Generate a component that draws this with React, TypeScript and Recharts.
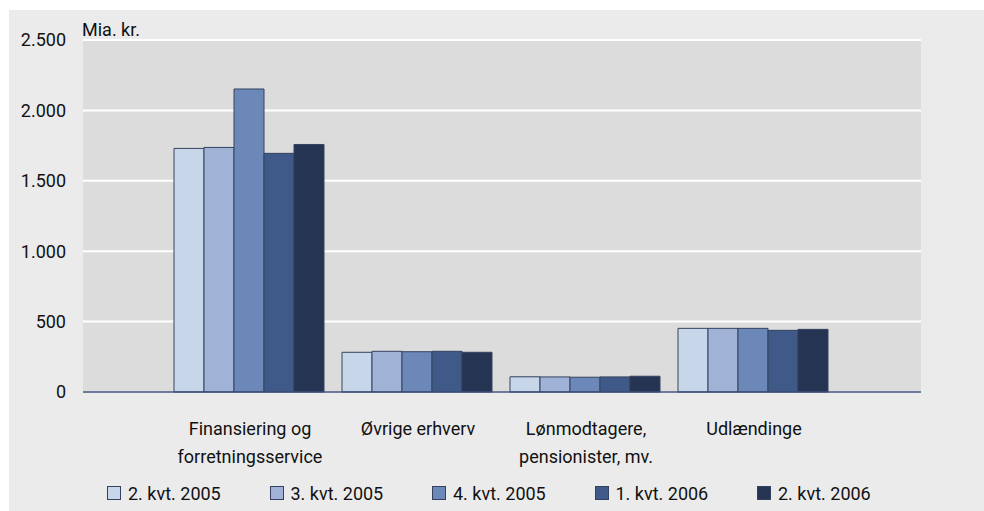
import { BarChart, Bar, XAxis, YAxis, CartesianGrid, Legend } from "recharts";

const FONT = 'Roboto, "Noto Sans", sans-serif';

const categories = [
  "Finansiering og\nforretningsservice",
  "Øvrige erhverv",
  "Lønmodtagere,\npensionister, mv.",
  "Udlændinge",
];

const seriesNames = ["2. kvt. 2005", "3. kvt. 2005", "4. kvt. 2005", "1. kvt. 2006", "2. kvt. 2006"];
const seriesColors = ["#c8d6ea", "#a0b3d7", "#6c88b8", "#3f5a88", "#263453"];

const q2_2005 = [1730, 282, 108, 452];
const q3_2005 = [1737, 289, 107, 452];
const q4_2005 = [2152, 286, 105, 452];
const q1_2006 = [1695, 289, 107, 438];
const q2_2006 = [1758, 282, 112, 445];

const yTicks = [0, 500, 1000, 1500, 2000, 2500];

const seriesValues = [q2_2005, q3_2005, q4_2005, q1_2006, q2_2006];

const data = categories.map((name, i) => {
  const row: Record<string, string | number> = { name };
  seriesNames.forEach((s, j) => {
    row[s] = seriesValues[j][i];
  });
  return row;
});

const fmt = (v: number) => String(v).replace(/\B(?=(\d{3})+(?!\d))/g, ".");

const CategoryTick = (props: any) => {
  const { x, y, payload } = props;
  const lines = String(payload.value).split("\n");
  return (
    <g>
      {lines.map((line, i) => (
        <text
          key={i}
          x={x}
          y={y + 35 + i * 28}
          textAnchor="middle"
          fill="#111"
          fontSize={18}
          fontFamily={FONT}
        >
          {line}
        </text>
      ))}
    </g>
  );
};

const LegendContent = () => (
  <div style={{ display: "flex", height: 30, paddingLeft: 98, alignItems: "center", paddingBottom: 6, boxSizing: "border-box" }}>
    {seriesNames.map((s, i) => (
      <div key={s} style={{ width: 162.5, display: "flex", alignItems: "center" }}>
        <span
          style={{
            display: "inline-block",
            width: 12,
            height: 12,
            background: seriesColors[i],
            border: "1px solid #34425f",
            marginRight: 7,
          }}
        />
        <span style={{ fontFamily: FONT, fontSize: 18, color: "#111" }}>{s}</span>
      </div>
    ))}
  </div>
);

export default function App() {
  return (
    <div style={{ position: "absolute", left: 9, top: 10, width: 975, height: 501, background: "#ebebeb" }}>
      <BarChart
        width={975}
        height={501}
        data={data}
        margin={{ top: 30, right: 63, left: 0, bottom: 0 }}
        barCategoryGap={8}
        barGap={0}
      >
        <CartesianGrid vertical={false} fill="#dcdcdc" stroke="#ffffff" strokeWidth={2} />
        <XAxis
          dataKey="name"
          interval={0}
          padding={{ left: 83, right: 83 }}
          tickLine={false}
          axisLine={{ stroke: "#3d4f78", strokeWidth: 1.5 }}
          tick={<CategoryTick />}
          height={89}
        />
        <YAxis
          width={74}
          domain={[0, 2500]}
          ticks={yTicks}
          interval={0}
          axisLine={false}
          tickLine={false}
          tickMargin={11}
          tickFormatter={fmt}
          tick={{ fill: "#111", fontSize: 18, fontFamily: FONT }}
          label={(p: any) => (
            <text
              x={p.viewBox.x + p.viewBox.width - 1}
              y={p.viewBox.y - 4.5}
              fill="#111"
              fontSize={18}
              fontFamily={FONT}
            >
              Mia. kr.
            </text>
          )}
        />
        <Legend verticalAlign="bottom" content={<LegendContent />} wrapperStyle={{ left: 0, width: 975 }} />
        {seriesNames.map((s, i) => (
          <Bar key={s} dataKey={s} fill={seriesColors[i]} stroke="#34425f" strokeWidth={1} isAnimationActive={false} />
        ))}
      </BarChart>
    </div>
  );
}
